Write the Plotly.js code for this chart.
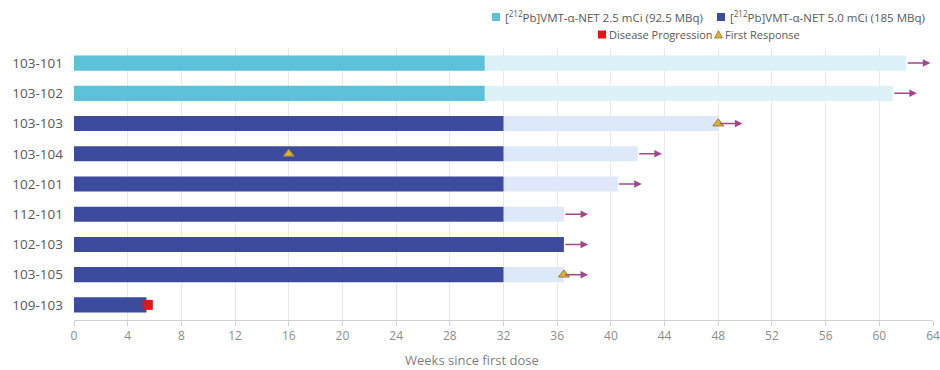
<!DOCTYPE html>
<html>
<head>
<meta charset="utf-8">
<script src="https://cdn.plot.ly/plotly-3.0.1.min.js"></script>
<style>
  html, body { margin: 0; padding: 0; background: #fff; }
  #chart { width: 940px; height: 370px; }
</style>
</head>
<body>
<div id="chart"></div>
<script>
// Swimmer plot: weeks on study per patient
const patients      = ['103-101', '103-102', '103-103', '103-104', '102-101', '112-101', '102-103', '103-105', '109-103'];
const doseGroup     = ['2.5', '2.5', '5.0', '5.0', '5.0', '5.0', '5.0', '5.0', '5.0'];
const treatmentEnd  = [30.6, 30.6, 32, 32, 32, 32, 36.5, 32, 5.4];
const followUpEnd   = [62, 61, 48, 42, 40.5, 36.5, 36.5, 36.5, 5.4];
const ongoing       = [true, true, true, true, true, true, true, true, false];
const responsePts   = ['103-103', '103-104', '103-105'];
const responseWeeks = [48, 16, 36.5];
const progressionPts   = ['109-103'];
const progressionWeeks = [5.5];

const groupNames = {
  '2.5': '[<sup>212</sup>Pb]VMT-\u03b1-NET 2.5 mCi (92.5 MBq)',
  '5.0': '[<sup>212</sup>Pb]VMT-\u03b1-NET 5.0 mCi (185 MBq)'
};
const solidColor  = { '2.5': '#5dc1da', '5.0': '#3d4b9f' };
const lightColor  = { '2.5': '#ddf1f8', '5.0': '#dde8f9' };
const progressionColor = '#e5141b';
const responseColor = '#e3b224';
const responseEdge = '#8c7b55';
const arrowWeeks = 1.8;

// plot-area geometry (px) used to place the key above the plot
const M = { l: 74, r: 7, t: 48, b: 50 };
const W = 940, H = 370;
const pw = W - M.l - M.r, ph = H - M.t - M.b;
const px = x => (x - M.l) / pw;
const py = y => (H - M.b - y) / ph;

const traces = [];
['2.5', '5.0'].forEach(g => {
  const idx = patients.map((p, i) => i).filter(i => doseGroup[i] === g);
  // follow-up period after last dose
  traces.push({
    type: 'bar', orientation: 'h', name: groupNames[g] + ' follow-up',
    y: idx.map(i => patients[i]),
    base: idx.map(i => treatmentEnd[i]),
    x: idx.map(i => followUpEnd[i] - treatmentEnd[i]),
    width: 0.5,
    marker: { color: lightColor[g] },
    showlegend: false, hoverinfo: 'skip'
  });
  // treatment period
  traces.push({
    type: 'bar', orientation: 'h', name: groupNames[g],
    y: idx.map(i => patients[i]),
    base: idx.map(() => 0),
    x: idx.map(i => treatmentEnd[i]),
    width: 0.5,
    marker: { color: solidColor[g] },
    showlegend: false, hoverinfo: 'skip'
  });
});

traces.push({
  type: 'scatter', mode: 'markers',
  x: progressionWeeks, y: progressionPts,
  name: 'Disease Progression', showlegend: false,
  marker: { symbol: 'square', size: 10, color: progressionColor }
});
traces.push({
  type: 'scatter', mode: 'markers',
  x: responseWeeks, y: responsePts,
  name: 'First Response', showlegend: false,
  marker: { symbol: 'triangle-up', size: 9.5, color: responseColor, line: { color: responseEdge, width: 1 } }
});

// ongoing arrows
const annotations = [];
patients.forEach((p, i) => {
  if (!ongoing[i]) return;
  annotations.push({
    x: followUpEnd[i] + arrowWeeks, y: p, xref: 'x', yref: 'y',
    ax: followUpEnd[i], ay: p, axref: 'x', ayref: 'y',
    text: '', showarrow: true, arrowhead: 2, arrowsize: 1, arrowwidth: 1.5,
    arrowcolor: '#a2478e', standoff: 0, startstandoff: 0
  });
});
annotations.push({
  text: 'Weeks since first dose', xref: 'paper', yref: 'paper',
  x: px(472), y: py(360), xanchor: 'center', yanchor: 'middle',
  showarrow: false, font: { family: 'Open Sans, sans-serif', size: 13, color: '#808080' }
});

// key above the plot
const keyFont = { family: 'Open Sans, sans-serif', size: 11.5, color: '#595959' };
const keyFont2 = { family: 'Open Sans, sans-serif', size: 11, color: '#595959' };
const keyItems = [
  { label: groupNames['2.5'], kind: 'square', color: solidColor['2.5'], cx: 496, cy: 17, tx: 504, font: keyFont },
  { label: groupNames['5.0'], kind: 'square', color: solidColor['5.0'], cx: 721, cy: 17, tx: 729, font: keyFont },
  { label: 'Disease Progression', kind: 'square', color: progressionColor, cx: 602, cy: 34.5, tx: 608, font: keyFont2 },
  { label: 'First Response', kind: 'triangle', color: responseColor, cx: 718.5, cy: 34.5, tx: 724, font: keyFont2 }
];
const shapes = [];
keyItems.forEach(k => {
  annotations.push({
    text: k.label, xref: 'paper', yref: 'paper', x: px(k.tx), y: py(k.cy),
    xanchor: 'left', yanchor: 'middle', showarrow: false, font: k.font,
    borderpad: 0
  });
  if (k.kind === 'square') {
    shapes.push({
      type: 'rect', xref: 'paper', yref: 'paper',
      x0: px(k.cx - 4), x1: px(k.cx + 4), y0: py(k.cy + 4), y1: py(k.cy - 4),
      fillcolor: k.color, line: { width: 0 }
    });
  } else {
    shapes.push({
      type: 'path', xref: 'paper', yref: 'paper',
      path: `M ${px(k.cx - 4)} ${py(k.cy + 3.5)} L ${px(k.cx + 4)} ${py(k.cy + 3.5)} L ${px(k.cx)} ${py(k.cy - 4)} Z`,
      fillcolor: k.color, line: { color: responseEdge, width: 0.8 }
    });
  }
});

const layout = {
  width: W, height: H,
  margin: { l: M.l, r: M.r, t: M.t, b: M.b, autoexpand: false },
  paper_bgcolor: '#ffffff', plot_bgcolor: '#ffffff',
  barmode: 'overlay',
  font: { family: 'Open Sans, sans-serif' },
  showlegend: false,
  xaxis: {
    range: [0, 64], tick0: 0, dtick: 4,
    showgrid: true, gridcolor: '#e9e9e9', gridwidth: 1,
    zeroline: false, automargin: false,
    showline: true, linecolor: '#d0d0d0', linewidth: 1,
    ticks: 'outside', ticklen: 5, tickcolor: '#d0d0d0',
    tickfont: { family: 'Open Sans, sans-serif', size: 12, color: '#8c8c8c' }
  },
  yaxis: {
    type: 'category', categoryorder: 'array', categoryarray: patients,
    autorange: false, range: [8.5, -0.5], automargin: false,
    showgrid: false, zeroline: false, showline: false, ticks: '',
    ticklabelstandoff: 10,
    tickfont: { family: 'Open Sans, sans-serif', size: 13.5, color: '#595959' }
  },
  annotations: annotations,
  shapes: shapes
};

Plotly.newPlot('chart', traces, layout, { displayModeBar: false, staticPlot: true });
</script>
</body>
</html>
